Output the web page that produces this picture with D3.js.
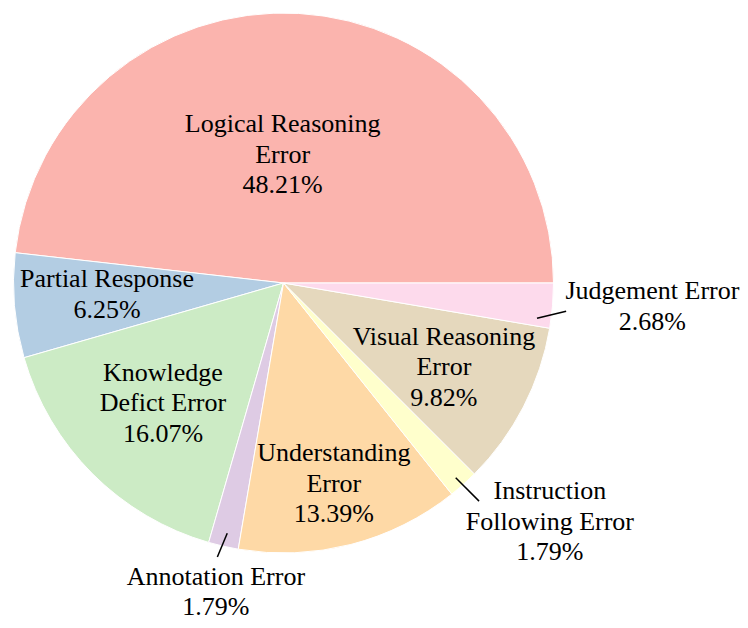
<!DOCTYPE html>
<html>
<head>
<meta charset="utf-8">
<script src="https://cdn.jsdelivr.net/npm/d3@7"></script>
<style>
html, body { margin: 0; padding: 0; background: #fff; }
svg { display: block; }
</style>
</head>
<body>
<svg id="chart" width="748" height="628"></svg>
<script>
// ---- data ----
const categories = [
  ["Logical Reasoning", "Error"],
  ["Partial Response"],
  ["Knowledge", "Defict Error"],
  ["Annotation Error"],
  ["Understanding", "Error"],
  ["Instruction", "Following Error"],
  ["Visual Reasoning", "Error"],
  ["Judgement Error"]
];
const values = [48.21, 6.25, 16.07, 1.79, 13.39, 1.79, 9.82, 2.68];
const colors = ["#fbb4ae", "#b3cde3", "#ccebc5", "#decbe4", "#fed9a6", "#ffffcc", "#e5d8bd", "#fddaec"];

// ---- layout (label placement relative to each slice's mid-angle) ----
const labelOffsetDeg = [3.6, -1.2, -0.2, 0.5, -0.35, 6.4, -0.2, 1.3];
const labelRadius    = [0.478, 0.655, 0.629, 1.169, 0.765, 1.324, 0.670, 1.369];
// leader lines: [startOffsetDeg, startRadius, endOffsetDeg, endRadius] or null
const leaders = [null, null, null, [0.2, 0.95, -0.7, 1.044], null, [-0.3, 0.963, 0.1, 1.085], null, [-3.1, 0.948, -0.9, 1.052]];

const cx = 283.5, cy = 283, R = 270;
const fontSize = 26, lineH = 30.5;

const svg = d3.select("#chart");
const g = svg.append("g").attr("transform", `translate(${cx},${cy})`);

const pie = d3.pie()
  .value(d => d)
  .sort(null)
  .startAngle(Math.PI / 2)
  .endAngle(Math.PI / 2 - 2 * Math.PI);
const arcs = pie(values);
const arc = d3.arc().innerRadius(0).outerRadius(R);

g.selectAll("path.slice")
  .data(arcs)
  .join("path")
  .attr("class", "slice")
  .attr("d", arc)
  .attr("fill", (d, i) => colors[i])
  .attr("stroke", "#ffffff")
  .attr("stroke-width", 1);

const rad = deg => deg * Math.PI / 180;
function polar(a, r) { // d3 angle (clockwise from 12 o'clock)
  return [r * Math.sin(a), -r * Math.cos(a)];
}
function midAngle(d) { return (d.startAngle + d.endAngle) / 2; }

arcs.forEach((d, i) => {
  const m = midAngle(d);
  const L = leaders[i];
  if (L) {
    const p0 = polar(m - rad(L[0]), L[1] * R);
    const p1 = polar(m - rad(L[2]), L[3] * R);
    g.append("line")
      .attr("x1", p0[0]).attr("y1", p0[1])
      .attr("x2", p1[0]).attr("y2", p1[1])
      .attr("stroke", "#000").attr("stroke-width", 1.5);
  }
  const [lx, ly] = polar(m - rad(labelOffsetDeg[i]), labelRadius[i] * R);
  const lines = categories[i].concat([d3.format(".2f")(values[i]) + "%"]);
  const n = lines.length;
  const t = g.append("text")
    .attr("text-anchor", "middle")
    .style("font-family", "\"Liberation Serif\", \"Times New Roman\", serif")
    .style("font-size", fontSize + "px")
    .attr("fill", "#000");
  lines.forEach((s, k) => {
    t.append("tspan")
      .attr("x", lx)
      .attr("y", ly + (k - (n - 1) / 2) * lineH + 0.33 * fontSize)
      .text(s);
  });
});
</script>
</body>
</html>
